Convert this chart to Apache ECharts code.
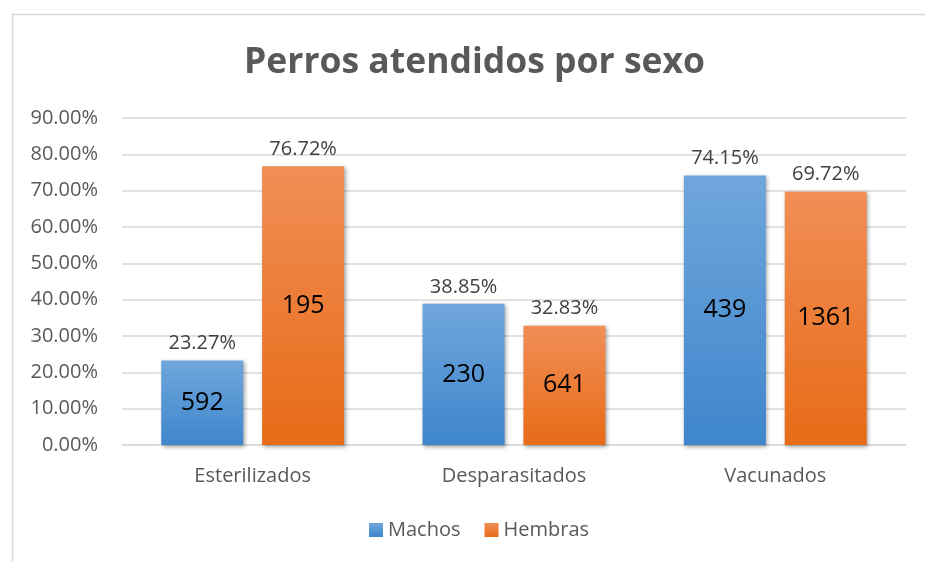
<!DOCTYPE html>
<html><head><meta charset="utf-8">
<script src="https://cdn.jsdelivr.net/npm/echarts@6/dist/echarts.min.js"></script>
<style>html,body{margin:0;padding:0;background:#fff}#c{width:925px;height:562px}</style>
</head><body><div id="c"></div>
<script>
const categories = ['Esterilizados', 'Desparasitados', 'Vacunados'];
const machosPct = [23.27, 38.85, 74.15];
const hembrasPct = [76.72, 32.83, 69.72];
const machosCount = [592, 230, 439];
const hembrasCount = [195, 641, 1361];
const seriesNames = ['Machos', 'Hembras'];
const titleText = 'Perros atendidos por sexo';

const FONT = '"Open Sans", sans-serif';
const blueGrad = new echarts.graphic.LinearGradient(0, 0, 0, 1, [
  {offset: 0, color: '#6fa6dc'}, {offset: 1, color: '#3f86cc'}]);
const orangeGrad = new echarts.graphic.LinearGradient(0, 0, 0, 1, [
  {offset: 0, color: '#f18e56'}, {offset: 1, color: '#e76b17'}]);

function countMarks(pct, counts) {
  return {
    symbol: 'rect', symbolSize: 0, silent: true,
    label: {show: true, position: 'inside', color: '#000', fontSize: 25, fontFamily: FONT,
      formatter: p => String(p.value)},
    data: pct.map((v, i) => ({coord: [i, v / 2], value: counts[i]}))
  };
}
function makeSeries(name, pct, counts, grad) {
  return {
    name: name, type: 'bar', data: pct, barWidth: 82, barGap: '23%',
    itemStyle: {color: grad, shadowBlur: 4, shadowColor: 'rgba(0,0,0,0.35)', shadowOffsetX: 1.5, shadowOffsetY: 1.5},
    label: {show: true, position: 'top', distance: 7, color: '#404040', fontSize: 20, fontFamily: FONT,
      formatter: p => p.value.toFixed(2) + '%'},
    markPoint: countMarks(pct, counts)
  };
}

const chart = echarts.init(document.getElementById('c'));
chart.setOption({
  animation: false,
  graphic: [{type: 'rect', left: 10, top: 12, shape: {width: 1000, height: 700},
    style: {fill: 'none', stroke: '#d9d9d9', lineWidth: 1.5}, silent: true}],
  title: {text: titleText, left: 239, top: 40,
    textStyle: {fontFamily: FONT, fontSize: 35.5, fontWeight: 'bold', color: '#595959'}},
  legend: {bottom: 17, left: 364, itemWidth: 14, itemHeight: 14, itemGap: 24, icon: 'rect',
    textStyle: {fontFamily: FONT, fontSize: 20, color: '#595959'},
    data: seriesNames},
  grid: {left: 122, right: 19, top: 118, bottom: 117},
  xAxis: {type: 'category', data: categories,
    axisLine: {lineStyle: {color: '#d9d9d9', width: 1.5}}, axisTick: {show: false},
    axisLabel: {fontFamily: FONT, fontSize: 20, color: '#595959', margin: 21}},
  yAxis: {type: 'value', min: 0, max: 90, interval: 10,
    axisLine: {show: false}, axisTick: {show: false},
    splitLine: {lineStyle: {color: '#d9d9d9', width: 1.5}},
    axisLabel: {fontFamily: FONT, fontSize: 20, color: '#595959', margin: 24,
      formatter: v => v.toFixed(2) + '%'}},
  series: [
    makeSeries(seriesNames[0], machosPct, machosCount, blueGrad),
    makeSeries(seriesNames[1], hembrasPct, hembrasCount, orangeGrad)
  ]
});
</script></body></html>
